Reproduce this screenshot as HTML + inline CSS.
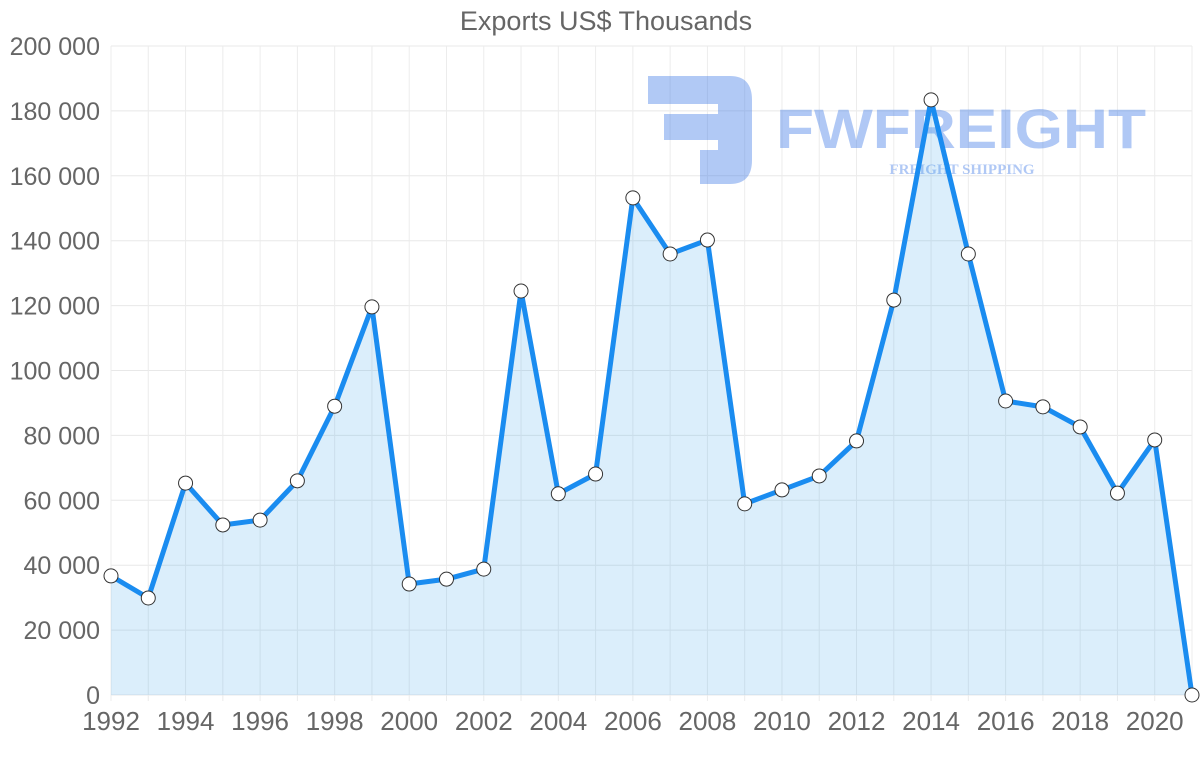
<!DOCTYPE html>
<html><head><meta charset="utf-8"><style>
html,body{margin:0;padding:0;background:#fff;}
svg{display:block;font-family:"Liberation Sans",sans-serif;}
</style></head><body>
<svg id="chart" width="1200" height="763">
<text x="606" y="30" text-anchor="middle" font-size="27" fill="#666">Exports US$ Thousands</text>
<g id="grid"></g>
<g id="logo" opacity="0.4">
<path d="M648 76 H730 Q752 76 752 100 V160 Q752 184 730 184 H700 V150 H718 V140 H664 V114 H718 V104 H648 Z" fill="#3b78e7"/>
<text x="776" y="148" font-size="56" font-weight="bold" fill="#3b78e7" textLength="370" lengthAdjust="spacingAndGlyphs">FWFREIGHT</text>
<text x="962" y="174" text-anchor="middle" font-size="15" font-weight="bold" fill="#3b78e7" font-family="Liberation Serif,serif">FREIGHT SHIPPING</text>
</g>
<g id="series"></g>
<g id="axes"></g>
</svg>
<script>
const years=[1992,1993,1994,1995,1996,1997,1998,1999,2000,2001,2002,2003,2004,2005,2006,2007,2008,2009,2010,2011,2012,2013,2014,2015,2016,2017,2018,2019,2020,2021];
const exportsVals=[36700,29900,65300,52400,53900,66000,89000,119600,34200,35700,38800,124500,62000,68100,153200,135900,140200,58900,63200,67500,78300,121700,183400,135900,90600,88800,82600,62200,78600,0];
const yTicks=[0,20000,40000,60000,80000,100000,120000,140000,160000,180000,200000];
const NS="http://www.w3.org/2000/svg";
const X0=111,X1=1192,Y0=695,Y1=46;
const xs=i=>X0+(X1-X0)*(i/(years.length-1));
const ys=v=>Y0-(Y0-Y1)*v/200000;
function mk(t,a,p){const e=document.createElementNS(NS,t);for(const k in a)e.setAttribute(k,a[k]);p.appendChild(e);return e;}
const grid=document.getElementById('grid'),axes=document.getElementById('axes'),ser=document.getElementById('series');
const fmt=v=>v.toString().replace(/\B(?=(\d{3})+(?!\d))/g,' ');
yTicks.forEach(v=>{
 const l=mk('line',{x1:X0,x2:X1,y1:ys(v),y2:ys(v),stroke:'#e8e8e8','stroke-width':1},grid);
 
 
 const t=mk('text',{x:100,y:ys(v)+9,'text-anchor':'end','font-size':25,fill:'#666'},axes);
 t.textContent=fmt(v);
 
 
});
years.forEach((y,i)=>{
 const l=mk('line',{x1:xs(i),x2:xs(i),y1:Y1,y2:Y0+6,stroke:'#ececec','stroke-width':1},grid);
 
 
 if(i%2===0){
  const t=mk('text',{x:xs(i),y:730,'text-anchor':'middle','font-size':26,fill:'#666'},axes);
  t.textContent=y;
  
  
 }
});
const pts=exportsVals.map((v,i)=>[xs(i),ys(v)]);
const area=mk('path',{d:'M'+xs(0)+','+Y0+' L'+pts.map(p=>p.join(',')).join(' L')+' L'+xs(years.length-1)+','+Y0+' Z',fill:'rgba(54,162,235,0.18)'},ser);


const line=mk('polyline',{points:pts.map(p=>p.join(',')).join(' '),fill:'none',stroke:'#1a8cf0','stroke-width':5,'stroke-linejoin':'round'},ser);


pts.forEach(p=>{
 const c=mk('circle',{cx:p[0],cy:p[1],r:7,fill:'#fff',stroke:'#333','stroke-width':1},ser);
 
 
});
</script>
</body></html>
